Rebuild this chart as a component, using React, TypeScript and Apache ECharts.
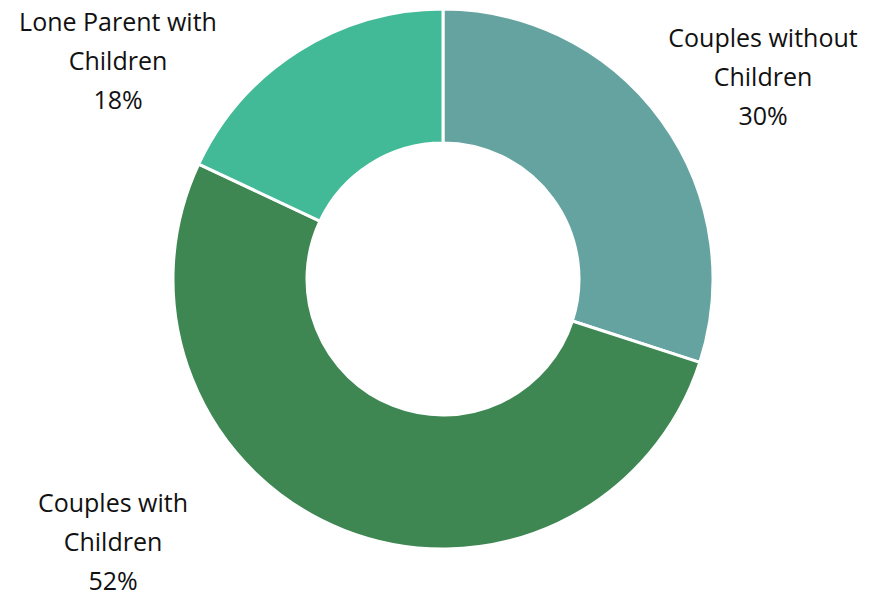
import React, { useEffect, useRef } from "react";
import * as echarts from "echarts";

const categories = ["Couples without Children", "Couples with Children", "Lone Parent with Children"];
const labelTexts = ["Couples without\nChildren", "Couples with\nChildren", "Lone Parent with\nChildren"];
const values = [30, 52, 18];
const colors = ["#64A39F", "#3E8753", "#43BA97"];
const labelCenters = [
  [763, 76],
  [113, 541],
  [118, 60],
];

export default function App() {
  const ref = useRef<HTMLDivElement>(null);
  useEffect(() => {
    document.body.style.margin = "0";
    if (!ref.current) return;
    const chart = echarts.init(ref.current, undefined, { renderer: "svg" });
    chart.setOption({
      animation: false,
      backgroundColor: "#ffffff",
      series: [
        {
          type: "pie",
          center: [443, 279],
          radius: [136, 270],
          startAngle: 90,
          clockwise: true,
          percentPrecision: 0,
          data: categories.map((name, i) => ({
            name,
            value: values[i],
            itemStyle: { color: colors[i] },
          })),
          itemStyle: { borderColor: "#ffffff", borderWidth: 3 },
          label: {
            show: true,
            position: "outside",
            formatter: (p: any) => `${labelTexts[p.dataIndex]}\n${p.percent}%`,
            fontFamily: "Open Sans",
            fontSize: 25,
            lineHeight: 39,
            color: "#111111",
            align: "center",
            overflow: "none",
          },
          labelLine: { show: false },
          labelLayout: (params: any) => {
            const c = labelCenters[params.dataIndex];
            return { x: c[0], y: c[1], align: "center", verticalAlign: "middle" };
          },
          emphasis: { disabled: true },
        },
      ],
    });
    return () => chart.dispose();
  }, []);
  return <div ref={ref} style={{ width: 873, height: 597 }} />;
}
